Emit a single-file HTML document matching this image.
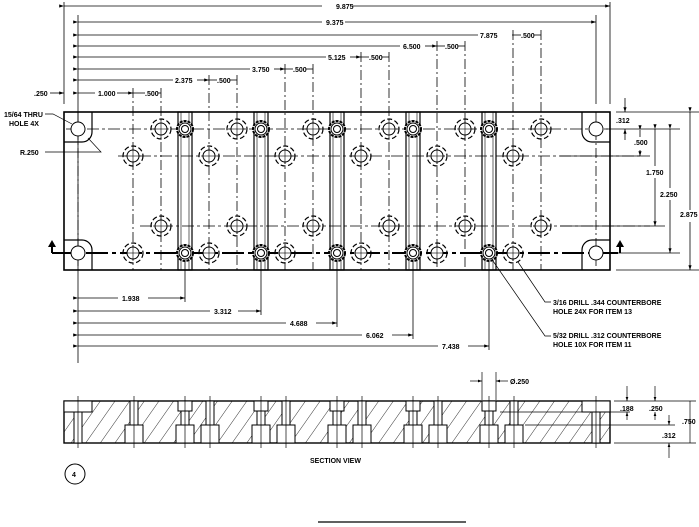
<!DOCTYPE html>
<html><head><meta charset="utf-8"><style>
html,body{margin:0;padding:0;background:#fff}
svg{display:block}
text{font-family:"Liberation Sans",sans-serif;font-size:7px;fill:#000;font-weight:bold}
</style></head><body>
<svg width="699" height="527" viewBox="0 0 699 527" xmlns="http://www.w3.org/2000/svg">
<defs>
<g id="dh"><circle r="10" fill="none" stroke="#000" stroke-width="1.2" stroke-dasharray="5,2.5"/><circle r="6" fill="#fff" stroke="#000" stroke-width="1"/><line x1="-8" y1="0" x2="8" y2="0" stroke="#000" stroke-width=".6"/><line x1="0" y1="-8" x2="0" y2="8" stroke="#000" stroke-width=".6"/></g>
<g id="cb"><circle r="8" fill="#fff" stroke="#000" stroke-width="2" stroke-dasharray="3,1"/><circle r="6" fill="none" stroke="#000" stroke-width="1"/><circle r="3.5" fill="none" stroke="#000" stroke-width="1"/></g>
<g id="th"><circle r="7" fill="#fff" stroke="#000" stroke-width="1"/></g>
<pattern id="hatch" width="12" height="12" patternUnits="userSpaceOnUse" patternTransform="rotate(35)"><line x1="0" y1="0" x2="0" y2="12" stroke="#000" stroke-width=".8"/></pattern>
<marker id="ar" markerWidth="6" markerHeight="4" refX="6" refY="2" orient="auto"><path d="M0,0 L6,2 L0,4z" fill="#000"/></marker>
</defs>
<g stroke="#000" fill="none" stroke-width=".8">
<line x1="64" y1="2" x2="64" y2="104"/>
<line x1="78" y1="15" x2="78" y2="363"/>
<line x1="610" y1="2" x2="610" y2="104"/>
<line x1="596" y1="15" x2="596" y2="104"/>
<line x1="64" y1="6" x2="322" y2="6" marker-start="url(#ar)"/><line x1="352" y1="6" x2="610" y2="6" marker-end="url(#ar)"/>
<line x1="78" y1="22" x2="322" y2="22" marker-start="url(#ar)"/><line x1="345" y1="22" x2="596" y2="22" marker-end="url(#ar)"/>
<line x1="78" y1="35" x2="478" y2="35" marker-start="url(#ar)"/><line x1="512" y1="35" x2="513" y2="35"/>
<line x1="78" y1="46" x2="400" y2="46" marker-start="url(#ar)"/><line x1="425" y1="46" x2="437" y2="46" marker-end="url(#ar)"/>
<line x1="78" y1="57" x2="326" y2="57" marker-start="url(#ar)"/><line x1="350" y1="57" x2="361" y2="57" marker-end="url(#ar)"/>
<line x1="78" y1="69" x2="250" y2="69" marker-start="url(#ar)"/><line x1="274" y1="69" x2="285" y2="69" marker-end="url(#ar)"/>
<line x1="78" y1="80" x2="173" y2="80" marker-start="url(#ar)"/><line x1="197" y1="80" x2="209" y2="80" marker-end="url(#ar)"/>
<line x1="78" y1="93" x2="95" y2="93" marker-start="url(#ar)"/><line x1="117" y1="93" x2="133" y2="93" marker-end="url(#ar)"/>
<line x1="133" y1="93" x2="145" y2="93"/><line x1="158" y1="93" x2="161" y2="93"/>
<line x1="209" y1="80" x2="217" y2="80"/><line x1="230" y1="80" x2="237" y2="80"/>
<line x1="285" y1="69" x2="293" y2="69"/><line x1="306" y1="69" x2="313" y2="69"/>
<line x1="361" y1="57" x2="369" y2="57"/><line x1="382" y1="57" x2="389" y2="57"/>
<line x1="437" y1="46" x2="445" y2="46"/><line x1="458" y1="46" x2="465" y2="46"/>
<line x1="513" y1="35" x2="521" y2="35"/><line x1="534" y1="35" x2="541" y2="35"/>
<line x1="50" y1="93" x2="64" y2="93" marker-end="url(#ar)"/>
<line x1="133" y1="88" x2="133" y2="270" stroke-dasharray="10,3,2,3"/>
<line x1="161" y1="88" x2="161" y2="270" stroke-dasharray="10,3,2,3"/>
<line x1="209" y1="75" x2="209" y2="270" stroke-dasharray="10,3,2,3"/>
<line x1="237" y1="75" x2="237" y2="270" stroke-dasharray="10,3,2,3"/>
<line x1="285" y1="64" x2="285" y2="270" stroke-dasharray="10,3,2,3"/>
<line x1="313" y1="64" x2="313" y2="270" stroke-dasharray="10,3,2,3"/>
<line x1="361" y1="52" x2="361" y2="270" stroke-dasharray="10,3,2,3"/>
<line x1="389" y1="52" x2="389" y2="270" stroke-dasharray="10,3,2,3"/>
<line x1="437" y1="41" x2="437" y2="270" stroke-dasharray="10,3,2,3"/>
<line x1="465" y1="41" x2="465" y2="270" stroke-dasharray="10,3,2,3"/>
<line x1="513" y1="30" x2="513" y2="270" stroke-dasharray="10,3,2,3"/>
<line x1="541" y1="30" x2="541" y2="270" stroke-dasharray="10,3,2,3"/>
<line x1="78" y1="112" x2="78" y2="270" stroke-dasharray="10,3,2,3"/>
<line x1="596" y1="112" x2="596" y2="270" stroke-dasharray="10,3,2,3"/>
<line x1="185" y1="260" x2="185" y2="302"/>
<line x1="261" y1="260" x2="261" y2="315"/>
<line x1="337" y1="260" x2="337" y2="327"/>
<line x1="413" y1="260" x2="413" y2="339"/>
<line x1="489" y1="260" x2="489" y2="350"/>
<line x1="78" y1="298" x2="118" y2="298" marker-start="url(#ar)"/><line x1="148" y1="298" x2="185" y2="298" marker-end="url(#ar)"/>
<line x1="78" y1="311" x2="210" y2="311" marker-start="url(#ar)"/><line x1="238" y1="311" x2="261" y2="311" marker-end="url(#ar)"/>
<line x1="78" y1="323" x2="286" y2="323" marker-start="url(#ar)"/><line x1="316" y1="323" x2="337" y2="323" marker-end="url(#ar)"/>
<line x1="78" y1="335" x2="362" y2="335" marker-start="url(#ar)"/><line x1="392" y1="335" x2="413" y2="335" marker-end="url(#ar)"/>
<line x1="78" y1="346" x2="438" y2="346" marker-start="url(#ar)"/><line x1="468" y1="346" x2="489" y2="346" marker-end="url(#ar)"/>
<line x1="616" y1="112" x2="700" y2="112"/>
<line x1="616" y1="270" x2="700" y2="270"/>
<line x1="604" y1="129" x2="680" y2="129"/>
<line x1="560" y1="156" x2="650" y2="156"/>
<line x1="560" y1="226" x2="665" y2="226"/>
<line x1="604" y1="253" x2="680" y2="253"/>
<line x1="690" y1="112" x2="690" y2="210" marker-start="url(#ar)"/><line x1="690" y1="222" x2="690" y2="270" marker-end="url(#ar)"/>
<line x1="670" y1="129" x2="670" y2="188" marker-start="url(#ar)"/><line x1="670" y1="200" x2="670" y2="253" marker-end="url(#ar)"/>
<line x1="655" y1="129" x2="655" y2="166" marker-start="url(#ar)"/><line x1="655" y1="178" x2="655" y2="226" marker-end="url(#ar)"/>
<line x1="640" y1="130" x2="640" y2="137" marker-start="url(#ar)"/><line x1="640" y1="150" x2="640" y2="156" marker-end="url(#ar)"/>
<line x1="625" y1="98" x2="625" y2="112" marker-end="url(#ar)"/><line x1="625" y1="140" x2="625" y2="129" marker-end="url(#ar)"/>
</g>
<rect x="64" y="112" width="546" height="158" fill="none" stroke="#000" stroke-width="1.6"/>
<g fill="none" stroke="#000" stroke-width="1.2">
<path d="M64,142 H82 A10,10 0 0 0 92,132 V112"/>
<path d="M64,240 H82 A10,10 0 0 1 92,250 V270"/>
<path d="M610,142 H592 A10,10 0 0 1 582,132 V112"/>
<path d="M610,240 H592 A10,10 0 0 0 582,250 V270"/>
<rect x="178" y="112" width="14" height="158"/><line x1="181" y1="112" x2="181" y2="270" stroke-width=".6"/><line x1="189" y1="112" x2="189" y2="270" stroke-width=".6"/>
<rect x="254" y="112" width="14" height="158"/><line x1="257" y1="112" x2="257" y2="270" stroke-width=".6"/><line x1="265" y1="112" x2="265" y2="270" stroke-width=".6"/>
<rect x="330" y="112" width="14" height="158"/><line x1="333" y1="112" x2="333" y2="270" stroke-width=".6"/><line x1="341" y1="112" x2="341" y2="270" stroke-width=".6"/>
<rect x="406" y="112" width="14" height="158"/><line x1="409" y1="112" x2="409" y2="270" stroke-width=".6"/><line x1="417" y1="112" x2="417" y2="270" stroke-width=".6"/>
<rect x="482" y="112" width="14" height="158"/><line x1="485" y1="112" x2="485" y2="270" stroke-width=".6"/><line x1="493" y1="112" x2="493" y2="270" stroke-width=".6"/>
</g>
<g stroke="#000" stroke-width=".8" fill="none" stroke-dasharray="12,3,3,3">
<line x1="66" y1="129" x2="608" y2="129"/>
<line x1="118" y1="156" x2="640" y2="156"/>
<line x1="140" y1="226" x2="650" y2="226"/>
</g>
<line x1="52" y1="253" x2="620" y2="253" stroke="#000" stroke-width="2" stroke-dasharray="22,4,4,4"/>
<path d="M52,253 V245" stroke="#000" stroke-width="2"/><path d="M48,247 L52,240 L56,247z"/>
<path d="M620,253 V245" stroke="#000" stroke-width="2"/><path d="M616,247 L620,240 L624,247z"/>
<use href="#th" x="78" y="129"/><use href="#th" x="596" y="129"/><use href="#th" x="78" y="253"/><use href="#th" x="596" y="253"/>
<use href="#dh" x="161" y="129"/><use href="#dh" x="237" y="129"/><use href="#dh" x="313" y="129"/><use href="#dh" x="389" y="129"/><use href="#dh" x="465" y="129"/><use href="#dh" x="541" y="129"/>
<use href="#dh" x="133" y="156"/><use href="#dh" x="209" y="156"/><use href="#dh" x="285" y="156"/><use href="#dh" x="361" y="156"/><use href="#dh" x="437" y="156"/><use href="#dh" x="513" y="156"/>
<use href="#dh" x="161" y="226"/><use href="#dh" x="237" y="226"/><use href="#dh" x="313" y="226"/><use href="#dh" x="389" y="226"/><use href="#dh" x="465" y="226"/><use href="#dh" x="541" y="226"/>
<use href="#dh" x="133" y="253"/><use href="#dh" x="209" y="253"/><use href="#dh" x="285" y="253"/><use href="#dh" x="361" y="253"/><use href="#dh" x="437" y="253"/><use href="#dh" x="513" y="253"/>
<use href="#cb" x="185" y="129"/><use href="#cb" x="261" y="129"/><use href="#cb" x="337" y="129"/><use href="#cb" x="413" y="129"/><use href="#cb" x="489" y="129"/>
<use href="#cb" x="185" y="253"/><use href="#cb" x="261" y="253"/><use href="#cb" x="337" y="253"/><use href="#cb" x="413" y="253"/><use href="#cb" x="489" y="253"/>
<g stroke="#000" stroke-width=".7" fill="none">
<path d="M45,114 H53 L72,124"/>
<path d="M45,152 H101 L88,138"/>
<path d="M493,261 L545,336 H551"/>
<path d="M518,262 L545,302 H551"/>
</g>
<text x="336" y="9">9.875</text>
<text x="326" y="25">9.375</text>
<text x="480" y="38">7.875</text>
<text x="521" y="38">.500</text>
<text x="403" y="49">6.500</text>
<text x="445" y="49">.500</text>
<text x="328" y="60">5.125</text>
<text x="369" y="60">.500</text>
<text x="252" y="72">3.750</text>
<text x="293" y="72">.500</text>
<text x="175" y="83">2.375</text>
<text x="217" y="83">.500</text>
<text x="98" y="96">1.000</text>
<text x="145" y="96">.500</text>
<text x="34" y="96">.250</text>
<text x="4" y="117">15/64 THRU</text>
<text x="9" y="126">HOLE 4X</text>
<text x="20" y="155">R.250</text>
<text x="616" y="123">.312</text>
<text x="634" y="145">.500</text>
<text x="646" y="175">1.750</text>
<text x="660" y="197">2.250</text>
<text x="680" y="217">2.875</text>
<text x="122" y="301">1.938</text>
<text x="214" y="314">3.312</text>
<text x="290" y="326">4.688</text>
<text x="366" y="338">6.062</text>
<text x="442" y="349">7.438</text>
<text x="553" y="305">3/16 DRILL .344 COUNTERBORE</text>
<text x="553" y="314">HOLE 24X FOR ITEM 13</text>
<text x="553" y="338">5/32 DRILL .312 COUNTERBORE</text>
<text x="553" y="347">HOLE 10X FOR ITEM 11</text>
<rect x="64" y="401" width="546" height="42" fill="url(#hatch)" stroke="#000" stroke-width="1.4"/>
<g fill="#fff" stroke="#000" stroke-width="1">
<rect x="64" y="401" width="28" height="11"/><rect x="74" y="412" width="8" height="31"/>
<rect x="582" y="401" width="28" height="11"/><rect x="592" y="412" width="8" height="31"/>
<g id="s11"><rect x="130" y="401" width="8" height="25"/><rect x="125" y="425" width="18" height="18"/></g>
<use href="#s11" x="76"/><use href="#s11" x="152"/><use href="#s11" x="228"/><use href="#s11" x="304"/><use href="#s11" x="380"/>
<g id="s13"><rect x="178" y="401" width="14" height="10"/><rect x="181" y="411" width="8" height="15"/><rect x="176" y="425" width="18" height="18"/></g>
<use href="#s13" x="76"/><use href="#s13" x="152"/><use href="#s13" x="228"/><use href="#s13" x="304"/>
</g>
<g stroke="#000" stroke-width=".7">
<line x1="78" y1="396" x2="78" y2="448"/><line x1="134" y1="396" x2="134" y2="448"/><line x1="185" y1="396" x2="185" y2="448"/><line x1="210" y1="396" x2="210" y2="448"/><line x1="261" y1="396" x2="261" y2="448"/><line x1="286" y1="396" x2="286" y2="448"/><line x1="337" y1="396" x2="337" y2="448"/><line x1="362" y1="396" x2="362" y2="448"/><line x1="413" y1="396" x2="413" y2="448"/><line x1="438" y1="396" x2="438" y2="448"/><line x1="489" y1="396" x2="489" y2="448"/><line x1="514" y1="396" x2="514" y2="448"/><line x1="596" y1="396" x2="596" y2="448"/>
<line x1="482" y1="372" x2="482" y2="400"/><line x1="496" y1="372" x2="496" y2="400"/>
<line x1="470" y1="381" x2="482" y2="381" marker-end="url(#ar)"/><line x1="508" y1="381" x2="496" y2="381" marker-end="url(#ar)"/>
<line x1="614" y1="401" x2="696" y2="401"/><line x1="614" y1="443" x2="696" y2="443"/>
<line x1="500" y1="412" x2="630" y2="412"/><line x1="525" y1="425" x2="675" y2="425"/>
<line x1="627" y1="386" x2="627" y2="401" marker-end="url(#ar)"/><line x1="627" y1="420" x2="627" y2="412" marker-end="url(#ar)"/>
<line x1="655" y1="386" x2="655" y2="401" marker-end="url(#ar)"/><line x1="655" y1="420" x2="655" y2="412" marker-end="url(#ar)"/>
<line x1="669" y1="415" x2="669" y2="425" marker-end="url(#ar)"/><line x1="669" y1="458" x2="669" y2="443" marker-end="url(#ar)"/>
<line x1="690" y1="401" x2="690" y2="443"/>
</g>
<text x="510" y="384">Ø.250</text>
<text x="620" y="411">.188</text>
<text x="649" y="411">.250</text>
<text x="682" y="424">.750</text>
<text x="662" y="438">.312</text>
<text x="310" y="463">SECTION VIEW</text>
<circle cx="75" cy="474" r="10" fill="none" stroke="#000" stroke-width="1"/>
<text x="72" y="477" font-size="6">4</text>
<line x1="318" y1="522" x2="466" y2="522" stroke="#000" stroke-width="1.2"/>
</svg>
</body></html>
